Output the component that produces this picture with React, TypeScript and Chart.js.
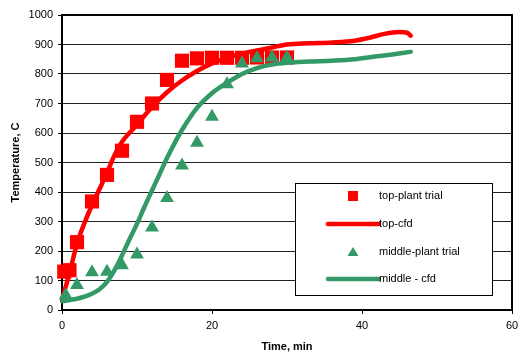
import React, { useEffect, useRef } from "react";
import { Chart, registerables } from "chart.js";

Chart.register(...registerables);

const topPlantTime = [0.3, 1, 2, 4, 6, 8, 10, 12, 14, 16, 18, 20, 22, 24, 26, 28, 30];
const topPlantTemp = [130, 135, 230, 368, 458, 540, 638, 700, 780, 845, 853, 855, 855, 855, 856, 856, 856];

const topCfdTime = [0, 1, 2, 3, 4, 5, 6, 7, 8, 10, 12, 14, 16, 18, 20, 22, 24, 26, 28, 30, 33, 36, 39, 41, 43, 45, 46, 46.5];
const topCfdTemp = [35, 125, 225, 295, 355, 410, 465, 525, 570, 628, 688, 738, 778, 810, 836, 855, 869, 880, 890, 900, 904, 907, 913, 923, 936, 942, 940, 930];

const midPlantTime = [0.5, 2, 4, 6, 8, 10, 12, 14, 16, 18, 20, 22, 24, 26, 28, 30];
const midPlantTemp = [50, 85, 128, 130, 152, 188, 280, 380, 490, 567, 655, 765, 836, 853, 856, 856];

const midCfdTime = [0, 2, 3, 4, 5, 6, 7, 8, 9, 10, 11, 12, 13, 14, 15, 16, 18, 20, 22, 24, 26, 28, 30, 33, 36, 39, 42, 44, 46.5];
const midCfdTemp = [30, 38, 45, 55, 70, 95, 135, 185, 240, 292, 350, 405, 460, 515, 565, 610, 685, 735, 770, 800, 820, 832, 838, 842, 845, 850, 860, 866, 875];

const xTicks = [0, 20, 40, 60];
const yMax = 1000;
const yStep = 100;

const RED = "#FF0000";
const GREEN = "#339966";
const FONT = "'Liberation Sans', Arial, sans-serif";

const pts = (xs: number[], ys: number[]) => xs.map((x, i) => ({ x, y: ys[i] }));

const frameAndLegend = {
  id: "frameAndLegend",
  afterDraw(chart: any) {
    const { ctx, chartArea: ca } = chart;
    ctx.save();
    ctx.strokeStyle = "#000";
    ctx.lineWidth = 2;
    ctx.beginPath();
    ctx.moveTo(ca.left, ca.top);
    ctx.lineTo(ca.right, ca.top);
    ctx.lineTo(ca.right, ca.bottom);
    ctx.stroke();

    const bx = ca.left + 233;
    const by = ca.top + 168;
    const bw = 197;
    const bh = 112;
    ctx.fillStyle = "#fff";
    ctx.fillRect(bx, by, bw, bh);
    ctx.lineWidth = 1;
    ctx.strokeStyle = "#000";
    ctx.strokeRect(bx + 0.5, by + 0.5, bw, bh);

    const ds = chart.data.datasets;
    const rowsY = [13, 41, 69, 96];
    const symX = bx + 58;
    const textX = bx + 84;
    ctx.font = `11px ${FONT}`;
    ctx.textBaseline = "middle";
    ctx.textAlign = "left";
    ds.forEach((d: any, i: number) => {
      const y = by + rowsY[i];
      if (d.showLine) {
        ctx.strokeStyle = d.borderColor;
        ctx.lineWidth = 4.5;
        ctx.lineCap = "round";
        ctx.beginPath();
        ctx.moveTo(bx + 33, y);
        ctx.lineTo(bx + 84, y);
        ctx.stroke();
      } else if (d.pointStyle === "rect") {
        ctx.fillStyle = d.backgroundColor;
        ctx.fillRect(symX - 5, y - 5, 10, 10);
      } else {
        ctx.fillStyle = d.backgroundColor;
        ctx.beginPath();
        ctx.moveTo(symX, y - 5);
        ctx.lineTo(symX + 5.5, y + 4);
        ctx.lineTo(symX - 5.5, y + 4);
        ctx.closePath();
        ctx.fill();
      }
      ctx.fillStyle = "#000";
      ctx.fillText(d.label, textX, y);
    });
    ctx.restore();
  },
};

export default function App() {
  const ref = useRef<HTMLCanvasElement>(null);
  useEffect(() => {
    if (!ref.current) return;
    const chart = new Chart(ref.current, {
      type: "scatter",
      data: {
        datasets: [
          {
            label: "top-plant trial",
            data: pts(topPlantTime, topPlantTemp),
            pointStyle: "rect",
            pointRadius: 10,
            backgroundColor: RED,
            borderColor: RED,
            borderWidth: 0,
            showLine: false,
            order: 4,
            clip: false,
          },
          {
            label: "top-cfd",
            data: pts(topCfdTime, topCfdTemp),
            showLine: true,
            borderColor: RED,
            backgroundColor: RED,
            borderWidth: 4.5,
            pointRadius: 0,
            cubicInterpolationMode: "monotone",
            borderCapStyle: "round",
            borderJoinStyle: "round",
            order: 3,
            clip: false,
          },
          {
            label: "middle-plant trial",
            data: pts(midPlantTime, midPlantTemp),
            pointStyle: "triangle",
            pointRadius: 8,
            backgroundColor: GREEN,
            borderColor: GREEN,
            borderWidth: 0,
            showLine: false,
            order: 2,
            clip: false,
          },
          {
            label: "middle - cfd",
            data: pts(midCfdTime, midCfdTemp),
            showLine: true,
            borderColor: GREEN,
            backgroundColor: GREEN,
            borderWidth: 4.5,
            pointRadius: 0,
            cubicInterpolationMode: "monotone",
            borderCapStyle: "round",
            borderJoinStyle: "round",
            order: 1,
            clip: false,
          },
        ] as any,
      },
      options: {
        responsive: false,
        animation: false,
        layout: { autoPadding: false, padding: { left: 0, top: 15, right: 6, bottom: 0 } },
        plugins: {
          legend: { display: false },
          tooltip: { enabled: false },
        },
        scales: {
          x: {
            type: "linear",
            min: 0,
            max: 60,
            afterBuildTicks: (s: any) => {
              s.ticks = xTicks.map((v) => ({ value: v }));
            },
            afterFit: (s: any) => {
              s.height = 46;
              s.paddingRight = 0;
              s.paddingLeft = 0;
            },
            ticks: {
              color: "#000",
              font: { family: FONT, size: 11 },
              padding: 5,
              maxRotation: 0,
              callback: (v: any) => String(v),
            },
            grid: {
              drawOnChartArea: false,
              drawTicks: true,
              tickLength: 4,
              tickColor: "#000",
            },
            border: { color: "#000", width: 2 },
            title: {
              display: true,
              text: "Time, min",
              color: "#000",
              font: { family: FONT, size: 11, weight: "bold" },
              padding: { top: 0, bottom: 2 },
            },
          },
          y: {
            type: "linear",
            min: 0,
            max: yMax,
            ticks: {
              stepSize: yStep,
              color: "#000",
              font: { family: FONT, size: 11 },
              padding: 5,
              callback: (v: any) => String(v),
            },
            afterFit: (s: any) => {
              s.width = 62;
              s.paddingTop = 0;
              s.paddingBottom = 0;
            },
            grid: {
              color: "#222",
              lineWidth: 1,
              drawTicks: true,
              tickLength: 4,
              tickColor: "#000",
            },
            border: { color: "#000", width: 2 },
            title: {
              display: true,
              text: "Temperature, C",
              color: "#000",
              font: { family: FONT, size: 11, weight: "bold" },
              padding: { top: 9, bottom: 0 },
            },
          },
        },
      } as any,
      plugins: [frameAndLegend],
    });
    return () => chart.destroy();
  }, []);
  return (
    <div style={{ position: "fixed", left: 0, top: 0, width: 518, height: 356, background: "#fff" }}>
      <canvas ref={ref} width={518} height={356} />
    </div>
  );
}
